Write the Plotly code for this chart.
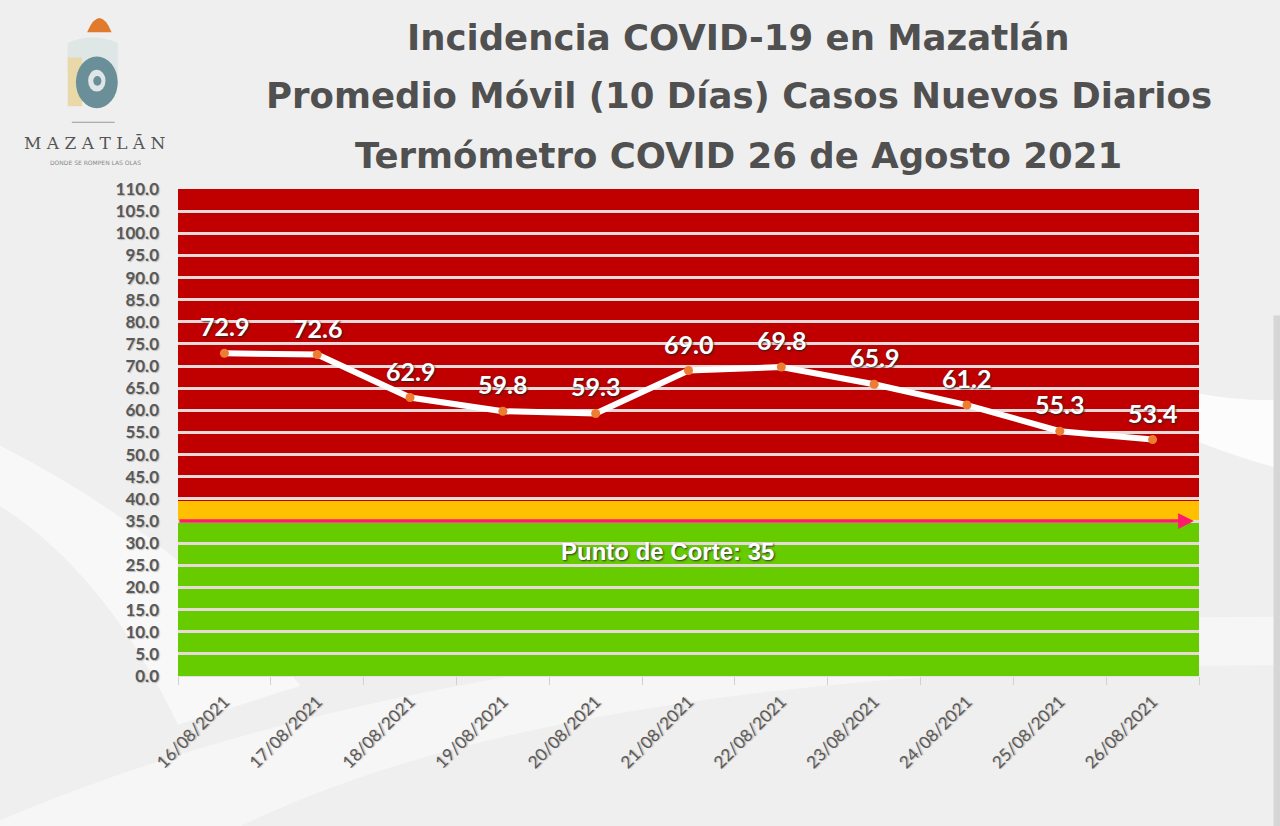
import plotly.graph_objects as go

# datos del termometro
fechas = ["16/08/2021", "17/08/2021", "18/08/2021", "19/08/2021", "20/08/2021",
          "21/08/2021", "22/08/2021", "23/08/2021", "24/08/2021", "25/08/2021",
          "26/08/2021"]
promedio = [72.9, 72.6, 62.9, 59.8, 59.3, 69.0, 69.8, 65.9, 61.2, 55.3, 53.4]

# franjas de color (limite inferior, limite superior)
franja_verde = [0, 35]
franja_amarilla = [35, 39.5]
franja_roja = [39.5, 110]
punto_corte = 35

y_ticks = [i * 5 for i in range(23)]

titulos = ["Incidencia COVID-19 en Mazatlán",
           "Promedio Móvil (10 Días) Casos Nuevos Diarios",
           "Termómetro COVID 26 de Agosto 2021"]

fig = go.Figure()

fig.add_trace(go.Scatter(
    x=fechas, y=promedio,
    mode="lines+markers",
    line=dict(color="white", width=6),
    marker=dict(color="#ed7d31", size=9),
    showlegend=False,
))

# etiquetas de los puntos
for f, v in zip(fechas, promedio):
    fig.add_annotation(x=f, y=v, yshift=27, showarrow=False, text=f"{v:.1f}",
                       font=dict(family="Lato", size=25, color="white",
                                 weight="bold", shadow="1px 1px 2px #222"))

shapes = []
# fondo: curvas blancas suaves
shapes.append(dict(type="path", xref="paper", yref="paper", layer="below",
                   path="M -0.2 -0.32 Q 0.3 0.15 1.2 0.12 L 1.2 0.02 Q 0.4 0.05 0.05 -0.32 Z",
                   fillcolor="rgba(255,255,255,0.45)", line_width=0))
shapes.append(dict(type="path", xref="paper", yref="paper", layer="below",
                   path="M -0.2 0.5 Q 0.0 0.3 0.12 -0.02 L 0.0 -0.1 Q -0.08 0.25 -0.2 0.38 Z",
                   fillcolor="rgba(255,255,255,0.55)", line_width=0))
shapes.append(dict(type="path", xref="paper", yref="paper", layer="below",
                   path="M 1.0 0.58 Q 1.05 0.56 1.09 0.57 L 1.09 0.42 Q 1.05 0.44 1.0 0.48 Z",
                   fillcolor="rgba(255,255,255,0.8)", line_width=0))
# borde derecho gris
shapes.append(dict(type="rect", xref="paper", yref="paper", layer="below",
                   x0=1.073, x1=1.09, y0=-0.32, y1=0.74,
                   fillcolor="#d6d6d6", line_width=0))

# franjas
for (y0, y1), color in [(franja_verde, "#66cc00"),
                        (franja_amarilla, "#ffc000"),
                        (franja_roja, "#c00000")]:
    shapes.append(dict(type="rect", xref="x domain", yref="y", layer="below",
                       x0=0, x1=1, y0=y0, y1=y1, fillcolor=color, line_width=0))

# logo aproximado
shapes += [
    dict(type="path", xref="paper", yref="paper",
         path="M -0.089 1.322 Q -0.077 1.38 -0.065 1.322 Z",
         fillcolor="#e07b2e", line_width=0),
    dict(type="path", xref="paper", yref="paper",
         path="M -0.108 1.23 L -0.108 1.30 Q -0.084 1.322 -0.059 1.30 L -0.059 1.23 Z",
         fillcolor="#dfe6e6", line_width=0),
    dict(type="rect", xref="paper", yref="paper", x0=-0.108, x1=-0.094,
         y0=1.17, y1=1.27, fillcolor="#ead9a8", line_width=0),
    dict(type="circle", xref="paper", yref="paper", x0=-0.1, x1=-0.059,
         y0=1.166, y1=1.272, fillcolor="#6b8f98", line_width=0),
    dict(type="circle", xref="paper", yref="paper", x0=-0.088, x1=-0.071,
         y0=1.2, y1=1.245, fillcolor="#dfe6e6", line_width=0),
    dict(type="circle", xref="paper", yref="paper", x0=-0.083, x1=-0.075,
         y0=1.212, y1=1.232, fillcolor="#6b8f98", line_width=0),
    dict(type="line", xref="paper", yref="paper", x0=-0.104, x1=-0.062,
         y0=1.137, y1=1.137, line=dict(color="#999999", width=1)),
]

fig.update_layout(shapes=shapes)

fig.add_annotation(xref="paper", yref="y", x=0.995, y=punto_corte,
                   ax=-1016, ay=0, axref="pixel", ayref="pixel",
                   showarrow=True, arrowhead=2, arrowsize=0.9, arrowwidth=3.5,
                   arrowcolor="#ff1a6e", text="")
fig.add_annotation(xref="paper", yref="y", x=0.479, y=28.2, showarrow=False,
                   text="Punto de Corte: 35",
                   font=dict(family="Liberation Sans", size=24, color="white",
                             weight="bold", shadow="1px 1px 2px #333"))

# titulo en tres lineas
for i, t in enumerate(titulos):
    fig.add_annotation(xref="paper", yref="paper", x=0.549,
                       y=(676 - 37 - 59 * i) / 487, yanchor="middle",
                       xanchor="center", showarrow=False, text=t,
                       font=dict(family="DejaVu Sans", size=35.5, color="#505050",
                                 weight="bold"))

fig.add_annotation(xref="paper", yref="paper", x=-0.081, y=1.094,
                   xanchor="center", yanchor="middle",
                   showarrow=False, text="M A Z A T L Ā N",
                   font=dict(family="DejaVu Serif", size=17, color="#555555"))
fig.add_annotation(xref="paper", yref="paper", x=-0.081, y=1.055,
                   xanchor="center", yanchor="middle",
                   showarrow=False, text="DONDE SE ROMPEN LAS OLAS",
                   font=dict(family="DejaVu Sans", size=6, color="#888888"))

fig.update_layout(
    width=1280, height=826,
    paper_bgcolor="#efefef",
    plot_bgcolor="rgba(0,0,0,0)",
    margin=dict(l=178, r=81, t=189, b=150),
    xaxis=dict(type="category", tickson="boundaries", ticks="outside",
               ticklen=8, tickcolor="#d0d0d0", tickangle=-45,
               ticklabelstandoff=8,
               showgrid=False, showline=True, linecolor="#e2e2e2",
               tickfont=dict(family="Lato", size=17, color="#595959",
                             shadow="1px 1px 1px #bbb"),
               range=[-0.5, 10.5]),
    yaxis=dict(range=[0, 110], tickvals=y_ticks, tickformat=".1f",
               showgrid=True, gridcolor="#e6dada", gridwidth=2.5,
               zeroline=False, ticks="", ticklabelstandoff=18,
               tickfont=dict(family="Lato", size=17, color="#595959",
                             weight="bold", shadow="1px 1px 1px #bbb")),
)

fig.write_html("out.html", config={"displayModeBar": False},
               post_script="document.body.style.margin='0px';")
